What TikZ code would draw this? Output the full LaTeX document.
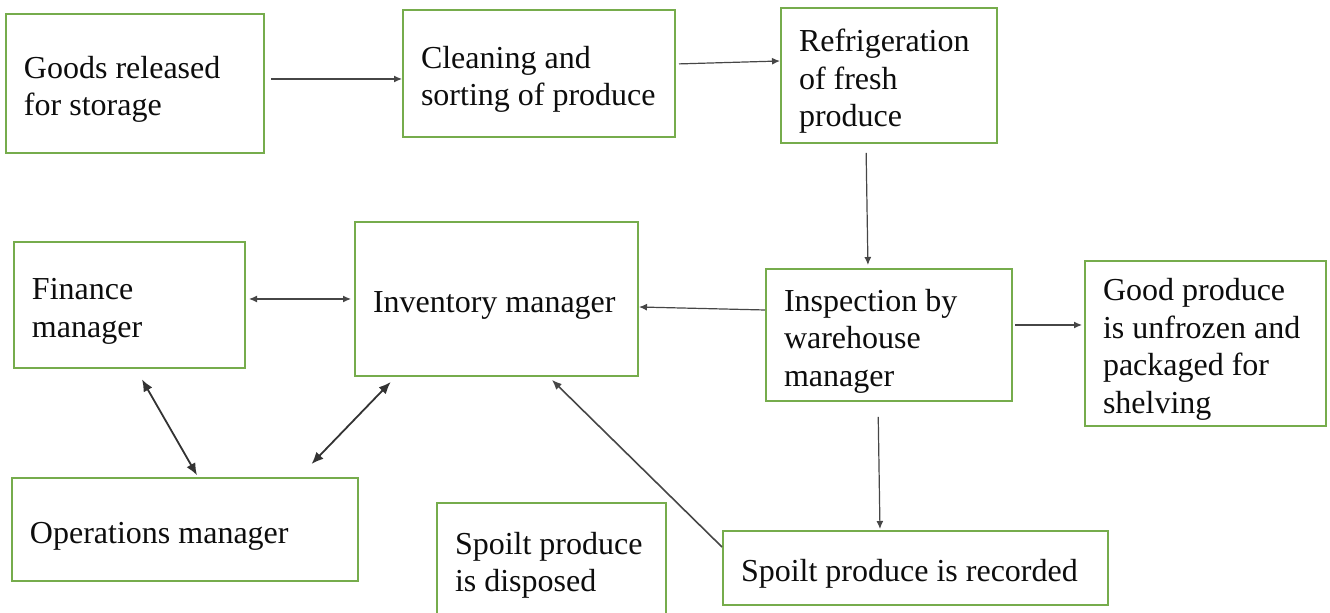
\documentclass[tikz,border=0pt]{standalone}
\usepackage{fontspec}
\setmainfont{Liberation Serif}
\usetikzlibrary{arrows.meta, calc}

\definecolor{boxgreen}{RGB}{118,172,76}
\definecolor{linegray}{RGB}{70,70,70}

\begin{document}
\begin{tikzpicture}[x=0.5pt, y=-0.5pt,
  font=\rmfamily\fontsize{16}{18.75}\selectfont,
  stage/.style={draw=boxgreen, line width=1pt, fill=white, rectangle,
    align=flush left, inner xsep=9pt, inner ysep=0pt, text=black!95,
    execute at begin node={\vrule height 17pt width 0pt}},
  flow/.style={draw=linegray, line width=0.6pt, -{Latex[length=4pt,width=3.5pt]}},
  both/.style={draw=black!80, line width=0.9pt, {Latex[length=6pt,width=5pt]}-{Latex[length=6pt,width=5pt]}}]

% ---------- frame (reference proportions) ----------
\useasboundingbox (0,0) rectangle (1330,613);

% ---------- top row: storage flow ----------
\node[stage, minimum width=129pt, minimum height=69.5pt, text width=111pt] (goods) at (135,83.5)
  {Goods released\\for storage};
\node[stage, minimum width=136pt, minimum height=63.5pt, text width=118pt] (clean) at (539,73.5)
  {Cleaning and\\sorting of produce};
\node[stage, minimum width=108pt, minimum height=67.5pt, text width=90pt] (refrig) at (889,75.5)
  {Refrigeration\\of fresh\\produce};

% ---------- middle row: managers and inspection ----------
\node[stage, minimum width=115.5pt, minimum height=63pt, text width=97.5pt] (finance) at (129.5,305)
  {Finance\\manager};
\node[stage, minimum width=141.5pt, minimum height=77pt, text width=123.5pt] (inventory) at (496.5,299)
  {Inventory manager};
\node[stage, minimum width=123pt, minimum height=66pt, text width=105pt] (inspect) at (889,335)
  {Inspection by\\warehouse\\manager};
\node[stage, minimum width=120.5pt, minimum height=82.5pt, text width=102.5pt] (goodprod) at (1205.5,343.5)
  {Good produce\\is unfrozen and\\packaged for\\shelving};

% ---------- bottom row ----------
\node[stage, minimum width=173pt, minimum height=51.5pt, text width=155pt] (ops) at (185,529.5)
  {Operations manager};
\node[stage, minimum width=114.5pt, minimum height=56.5pt, text width=96.5pt] (disposed) at (551.5,559.5)
  {Spoilt produce\\is disposed};
\node[stage, minimum width=192.5pt, minimum height=37pt, text width=174.5pt] (recorded) at (915.5,568)
  {Spoilt produce is recorded};

% ---------- connectors ----------
\draw[flow, shorten <=3pt] ($(goods.east)+(0,-4.5)$) -- ($(clean.west)+(0,5.5)$);
\draw[flow, shorten <=1.5pt] ($(clean.east)+(0,-9.5)$) -- ($(refrig.west)+(0,-14.5)$);
\draw[flow, shorten <=4.5pt, shorten >=1.5pt] ($(refrig.south)+(-23,0)$) -- ($(inspect.north)+(-21,0)$);
\draw[flow] ($(inspect.west)+(0,-25)$) -- ($(inventory.east)+(0,8)$);
\draw[flow, shorten <=1pt, shorten >=1pt] ($(inspect.east)+(0,-10)$) -- ($(goodprod.west)+(0,-18.5)$);
\draw[flow, shorten <=7.5pt, shorten >=0.5pt] ($(inspect.south)+(-11,0)$) -- ($(recorded.north)+(-35.5,0)$);
\draw[flow, line width=0.8pt, -{Latex[length=5pt,width=4pt]}, shorten >=2pt] ($(recorded.west)+(0,-21)$) -- ($(inventory.south)+(52.5,0)$);

% two-way links between managers
\draw[flow, {Latex[length=4pt,width=3.5pt]}-{Latex[length=4pt,width=3.5pt]}, shorten <=1.5pt, shorten >=1.5pt]
  ($(finance.east)+(0,-6)$) -- (inventory.west);
\draw[both, shorten <=6pt, shorten >=1pt] ($(finance.south)+(6.5,0)$) -- ($(ops.north)+(13,0)$);
\draw[both, shorten <=3.5pt, shorten >=9pt] ($(inventory.south)+(-101,0)$) -- ($(ops.north)+(114,0)$);

\end{tikzpicture}
\end{document}
